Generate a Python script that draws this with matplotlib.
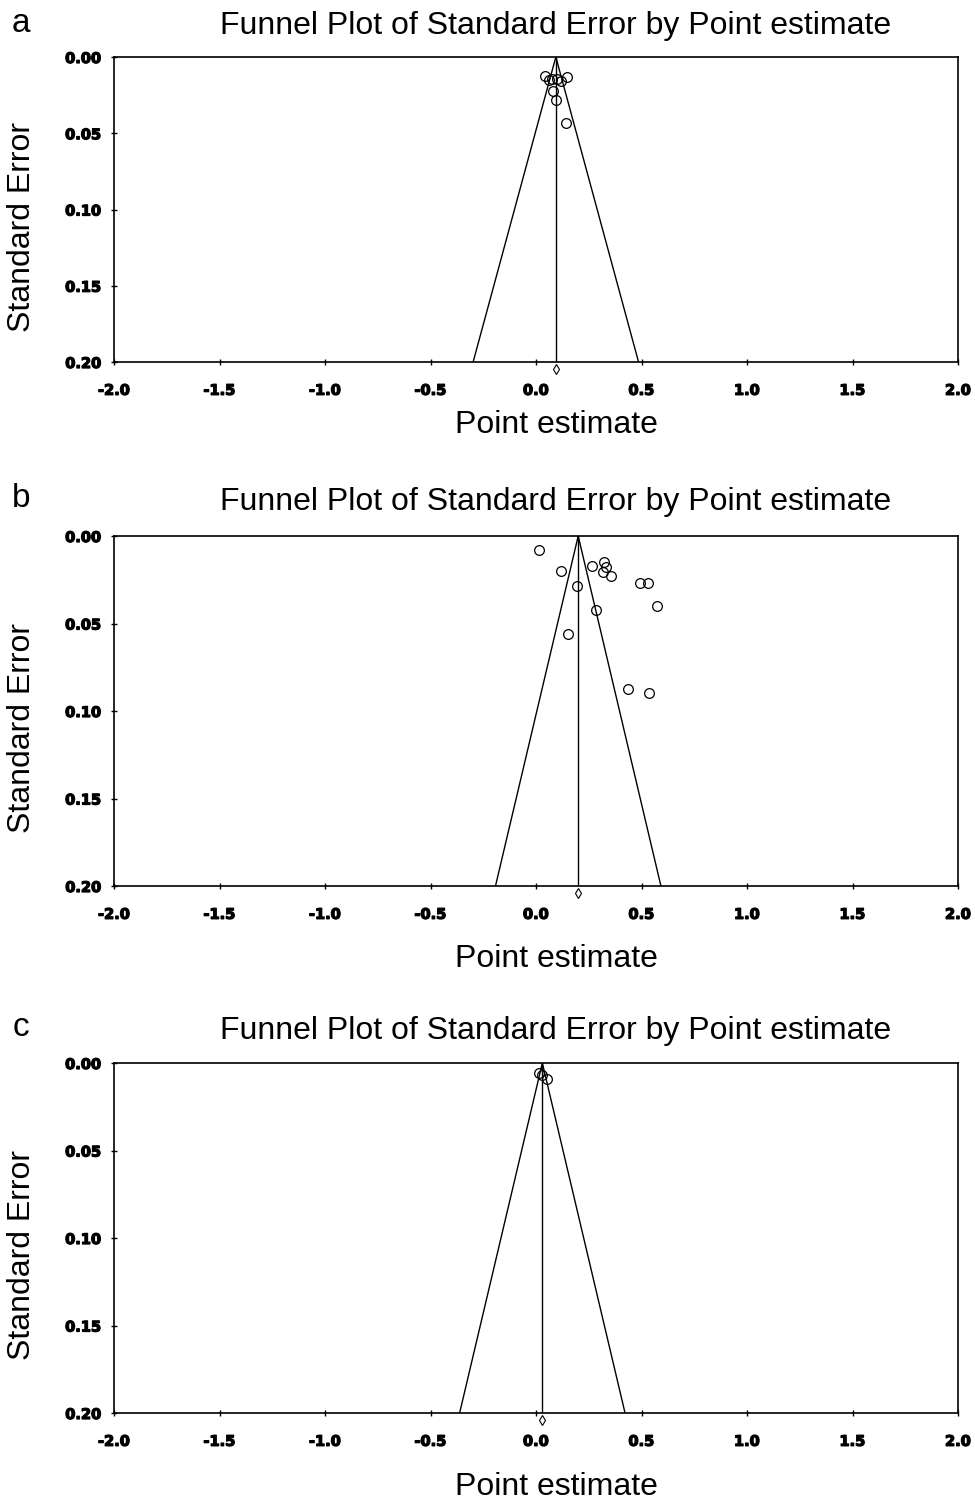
import matplotlib
matplotlib.use("Agg")
import matplotlib.pyplot as plt
import matplotlib.transforms as mtransforms
import matplotlib.patheffects as pe
import numpy as np

# ---- data ----
panel_labels = ["a", "b", "c"]
title_text = "Funnel Plot of Standard Error by Point estimate"
x_ticks = [-2.0, -1.5, -1.0, -0.5, 0.0, 0.5, 1.0, 1.5, 2.0]
y_ticks = [0.00, 0.05, 0.10, 0.15, 0.20]

summary_a = 0.094
est_a = [0.043, 0.075, 0.098, 0.119, 0.146, 0.082, 0.095, 0.141, 0.060]
se_a = [0.0125, 0.0146, 0.0146, 0.0155, 0.0133, 0.022, 0.028, 0.0435, 0.0150]

summary_b = 0.20
est_b = [0.016, 0.118, 0.265, 0.324, 0.333, 0.316, 0.356, 0.492, 0.529, 0.195,
         0.284, 0.573, 0.151, 0.438, 0.537]
se_b = [0.008, 0.020, 0.017, 0.015, 0.0175, 0.0206, 0.0227, 0.0267, 0.0267, 0.0287,
        0.042, 0.040, 0.056, 0.0876, 0.0895]

summary_c = 0.03
est_c = [0.016, 0.029, 0.054]
se_c = [0.0059, 0.0069, 0.0091]

panels = [(est_a, se_a, summary_a), (est_b, se_b, summary_b), (est_c, se_c, summary_c)]

W, H = 975, 1502
fig = plt.figure(figsize=(W / 100, H / 100), dpi=100)
plt.rcParams['font.family'] = ['Liberation Sans', 'DejaVu Sans']

# pixel boxes: (left, top, right, bottom)
boxes = [(114, 57, 958, 362), (114, 536, 958, 886), (114, 1063, 958, 1413)]
title_y = [26, 502, 1031]
xlabel_y = [425, 959, 1487]

for i, ((est, se, summ), (l, t, r, b)) in enumerate(zip(panels, boxes)):
    ax = fig.add_axes([l / W, 1 - b / H, (r - l) / W, (b - t) / H])
    ax.set_xlim(-2.0, 2.0)
    ax.set_ylim(0.20, 0.0)
    ax.set_xticks(x_ticks)
    ax.set_yticks(y_ticks)
    ax.set_xticklabels([f"{v:.1f}" for v in x_ticks])
    ax.set_yticklabels([f"{v:.2f}" for v in y_ticks])
    for lab in ax.get_xticklabels() + ax.get_yticklabels():
        lab.set_fontweight('heavy')
        lab.set_fontfamily('DejaVu Sans')
        lab.set_fontsize(10.5)
        lab.set_path_effects([pe.withStroke(linewidth=0.9, foreground='black')])
    ax.tick_params(direction='inout', length=4, width=1)
    ax.tick_params(axis='y', pad=7)
    ax.tick_params(axis='x', pad=13)
    for sp in ax.spines.values():
        sp.set_linewidth(1.2)

    # funnel
    se_line = np.array([0.0, 0.20])
    ax.plot(summ - 1.96 * se_line, se_line, color='black', lw=1)
    ax.plot(summ + 1.96 * se_line, se_line, color='black', lw=1)
    ax.plot([summ, summ], [0.0, 0.20], color='black', lw=1)

    ax.plot(est, se, linestyle='none', marker='o', markersize=7,
            markerfacecolor='none', markeredgecolor='black', markeredgewidth=0.9)

    # summary diamond below the axis
    trans = mtransforms.blended_transform_factory(ax.transData, ax.transAxes)
    trans = trans + mtransforms.ScaledTranslation(0, -7 / 100, fig.dpi_scale_trans)
    ax.plot([summ], [0], transform=trans, marker='d', markersize=5,
            markerfacecolor='white', markeredgecolor='black', markeredgewidth=0.8,
            clip_on=False)

    fig.text(556 / W, 1 - title_y[i] / H, title_text, ha='center', va='center', fontsize=23)
    fig.text(21 / W, 1 - (title_y[i] - 3) / H, panel_labels[i], ha='center', va='center', fontsize=24)
    fig.text(556 / W, 1 - xlabel_y[i] / H, "Point estimate", ha='center', va='center', fontsize=23)
    fig.text(22 / W, 1 - ((t + b) / 2 + 17) / H, "Standard Error", ha='center', va='center',
             fontsize=23, rotation=90)

fig.savefig("out.png", dpi=100)
